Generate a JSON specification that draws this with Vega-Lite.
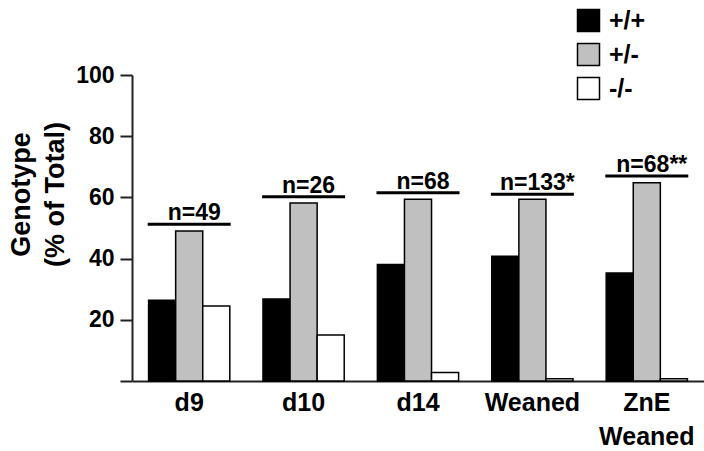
{
  "$schema": "https://vega.github.io/schema/vega-lite/v6.json",
  "width": 572,
  "height": 306,
  "autosize": "none",
  "padding": {"left": 132, "top": 75, "right": 0, "bottom": 70},
  "background": "white",
  "config": {"view": {"stroke": null}, "font": "Liberation Sans"},
  "datasets": {
    "bars": [
      {"group": "d9", "genotype": "+/+", "value": 26.4},
      {"group": "d9", "genotype": "+/-", "value": 49.0},
      {"group": "d9", "genotype": "-/-", "value": 24.5},
      {"group": "d10", "genotype": "+/+", "value": 26.8},
      {"group": "d10", "genotype": "+/-", "value": 58.2},
      {"group": "d10", "genotype": "-/-", "value": 15.0},
      {"group": "d14", "genotype": "+/+", "value": 38.1},
      {"group": "d14", "genotype": "+/-", "value": 59.4},
      {"group": "d14", "genotype": "-/-", "value": 2.8},
      {"group": "Weaned", "genotype": "+/+", "value": 40.8},
      {"group": "Weaned", "genotype": "+/-", "value": 59.4},
      {"group": "Weaned", "genotype": "-/-", "value": 0.7},
      {"group": "ZnE Weaned", "genotype": "+/+", "value": 35.3},
      {"group": "ZnE Weaned", "genotype": "+/-", "value": 64.8},
      {"group": "ZnE Weaned", "genotype": "-/-", "value": 0.7}
    ],
    "ann": [
      {"group": "d9", "line": 51.2, "label": "n=49"},
      {"group": "d10", "line": 60.2, "label": "n=26"},
      {"group": "d14", "line": 61.5, "label": "n=68"},
      {"group": "Weaned", "line": 61.0, "label": "n=133*"},
      {"group": "ZnE Weaned", "line": 67.0, "label": "n=68**"}
    ]
  },
  "layer": [
    {
      "data": {"name": "bars"},
      "mark": {"type": "bar", "stroke": "black", "strokeWidth": 1.5},
      "encoding": {
        "x": {
          "field": "group", "type": "nominal",
          "sort": ["d9", "d10", "d14", "Weaned", "ZnE Weaned"],
          "scale": {"paddingInner": 0.29, "paddingOuter": 0.145},
          "axis": {
            "title": null, "ticks": false, "labelAngle": 0,
            "labelFontSize": 25, "labelFontWeight": "bold", "labelColor": "black",
            "labelPadding": 9, "labelLineHeight": 34,
            "labelExpr": "datum.value == 'ZnE Weaned' ? ['ZnE', 'Weaned'] : datum.value",
            "domainColor": "#222", "domainWidth": 2
          }
        },
        "xOffset": {
          "field": "genotype", "type": "nominal",
          "sort": ["+/+", "+/-", "-/-"],
          "scale": {"paddingInner": 0, "paddingOuter": 0}
        },
        "y": {
          "field": "value", "type": "quantitative",
          "scale": {"domain": [0, 100]},
          "axis": {
            "values": [0, 10, 20, 30, 40, 50, 60, 70, 80, 90, 100],
            "labelExpr": "datum.value >= 20 && datum.value % 20 == 0 ? datum.label : ''",
            "grid": false, "tickSize": 12, "tickWidth": 2, "tickColor": "#222",
            "domainColor": "#222", "domainWidth": 2,
            "labelFontSize": 23, "labelFontWeight": "bold", "labelColor": "black", "labelPadding": 6,
            "title": ["Genotype", "(% of Total)"],
            "titleFontSize": 27, "titleFontWeight": "bold", "titleColor": "black",
            "titleLineHeight": 34, "titleX": -97, "titleY": 119, "titleBaseline": "bottom", "titleAngle": -90
          }
        },
        "color": {
          "field": "genotype", "type": "nominal",
          "sort": ["+/+", "+/-", "-/-"],
          "scale": {"domain": ["+/+", "+/-", "-/-"], "range": ["black", "#c0c0c0", "white"]},
          "legend": {
            "title": null, "orient": "none", "legendX": 444, "legendY": -67,
            "symbolType": "square", "symbolSize": 484, "symbolStrokeColor": "black",
            "symbolStrokeWidth": 1.5, "symbolOpacity": 1,
            "labelFontSize": 25, "labelFontWeight": "bold", "labelColor": "black",
            "labelOffset": 8, "rowPadding": 5, "padding": 0
          }
        }
      }
    },
    {
      "data": {"name": "ann"},
      "mark": {"type": "tick", "thickness": 3, "size": 83, "color": "black", "opacity": 1},
      "encoding": {
        "x": {"field": "group", "type": "nominal", "sort": ["d9", "d10", "d14", "Weaned", "ZnE Weaned"]},
        "y": {"field": "line", "type": "quantitative"}
      }
    },
    {
      "data": {"name": "ann"},
      "mark": {"type": "text", "dy": -4, "dx": 5, "baseline": "alphabetic", "fontSize": 23, "fontWeight": "bold", "color": "black"},
      "encoding": {
        "x": {"field": "group", "type": "nominal", "sort": ["d9", "d10", "d14", "Weaned", "ZnE Weaned"]},
        "y": {"field": "line", "type": "quantitative"},
        "text": {"field": "label"}
      }
    }
  ]
}
